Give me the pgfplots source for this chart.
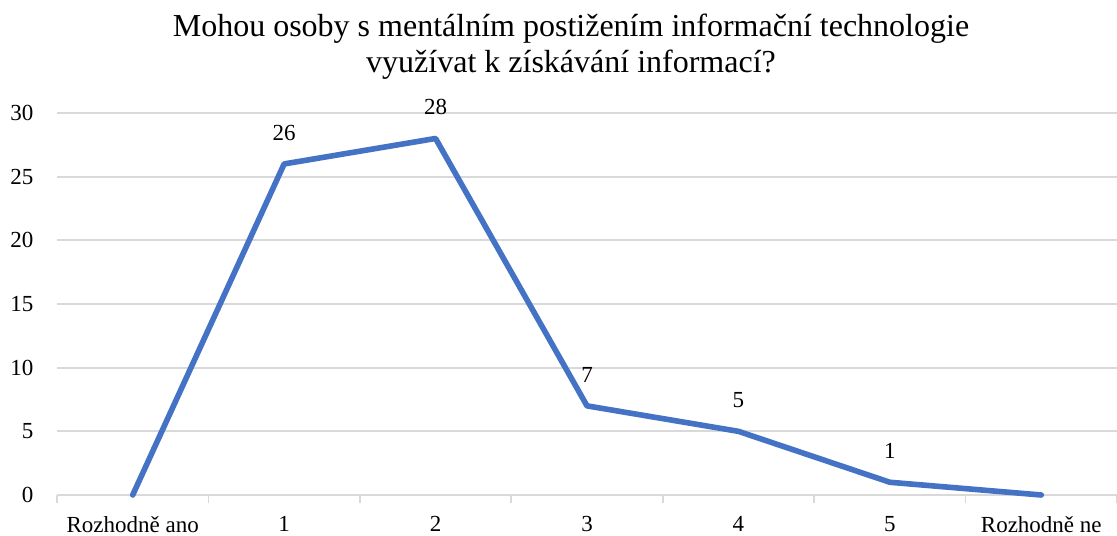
\documentclass[border=0pt]{standalone}
\usepackage{pgfplots}
\pgfplotsset{compat=1.18}
\usepackage{fontspec}
\setmainfont{Liberation Serif}
\definecolor{linec}{HTML}{4472C4}
\definecolor{gridc}{HTML}{D9D9D9}
\begin{document}
\begin{tikzpicture}
\useasboundingbox (-28.5pt,-20pt) rectangle (530pt,247.5pt);
\begin{axis}[
  at={(0,0)}, anchor=south west,
  scale only axis,
  width=530pt, height=191pt,
  xmin=-0.5, xmax=6.5, ymin=0, ymax=30,
  axis x line*=bottom, axis y line*=left,
  y axis line style={draw=none},
  ytick={0,5,...,30},
  major y tick style={draw=none},
  ymajorgrids, grid style={gridc, line width=0.9pt},
  xtick={0,...,6},
  xticklabels={Rozhodně ano,1,2,3,4,5,Rozhodně ne},
  minor xtick={-0.5,0.5,...,6.5},
  major x tick style={draw=none},
  minor x tick style={gridc, line width=0.9pt},
  tick align=outside,
  minor tick length=4pt,
  x axis line style={gridc, line width=0.9pt, -},
  ticklabel style={font=\fontsize{11.5}{13}\selectfont, text=black},
  xticklabel style={yshift=-3pt},
  yticklabel style={xshift=-4pt},
  /pgf/number format/assume math mode=true,
  clip=false,
]
\addplot[linec, line width=2.8pt, line join=round, line cap=round,
  nodes near coords, point meta=explicit symbolic,
  every node near coord/.append style={font=\fontsize{11.5}{13}\selectfont, text=black, yshift=7pt}]
  coordinates {(0,0) [] (1,26) [26] (2,28) [28] (3,7) [7] (4,5) [5] (5,1) [1] (6,0) []};
\end{axis}
\node[font=\fontsize{16}{18}\selectfont, align=center] at (257pt,224pt) {Mohou osoby s mentálním postižením informační technologie\\využívat k získávání informací?};
\end{tikzpicture}
\end{document}
